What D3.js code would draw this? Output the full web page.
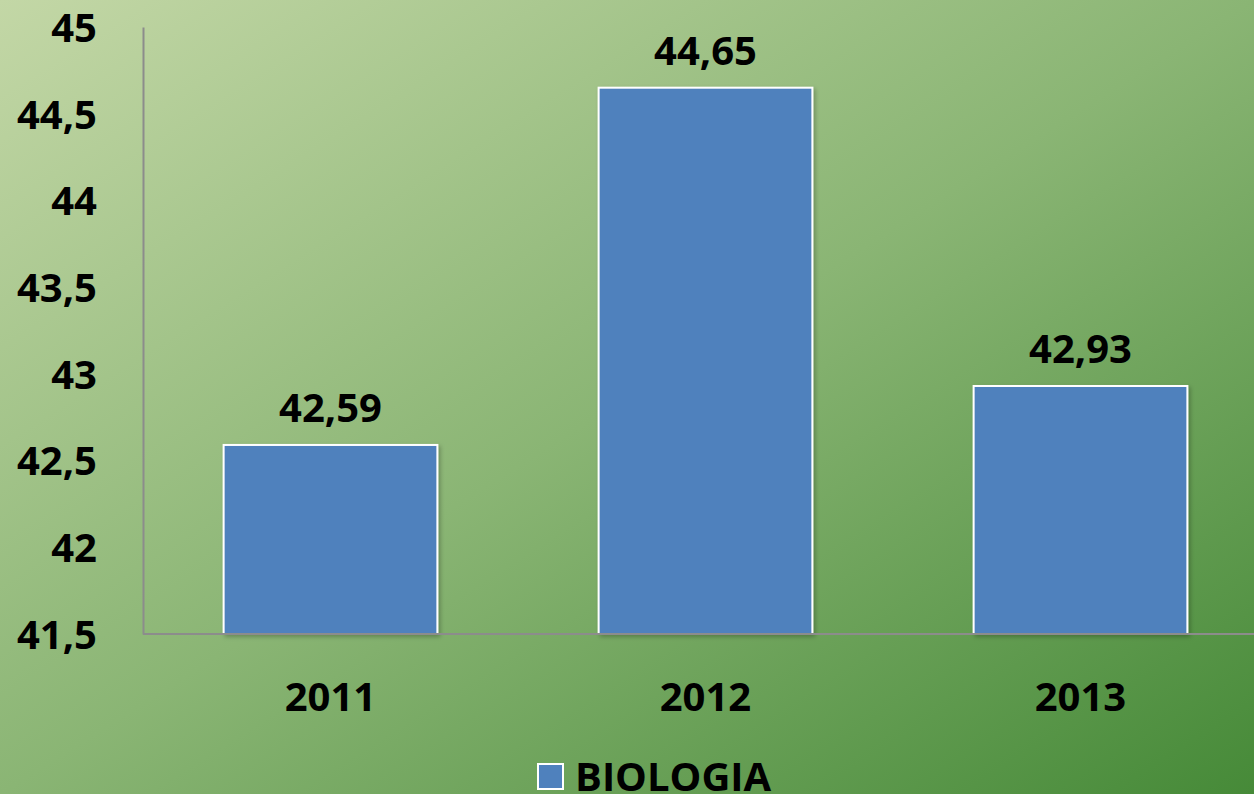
<!DOCTYPE html>
<html>
<head>
<meta charset="utf-8">
<script src="https://cdn.jsdelivr.net/npm/d3@7"></script>
<style>
  body { margin: 0; overflow: hidden; }
  svg { display: block; }
  text { font-family: "Open Sans", "Noto Sans", sans-serif; font-weight: bold; fill: #000; }
</style>
</head>
<body>
<div class="chart"></div>
<script>
// data
var years = ['2011', '2012', '2013'];
var biologia = [42.59, 44.65, 42.93];
var yTicks = [41.5, 42, 42.5, 43, 43.5, 44, 44.5, 45];
var seriesName = 'BIOLOGIA';

var width = 1254, height = 794;
var plot = { left: 143, top: 27, bottom: 634, right: 1268 };

var svg = d3.select('.chart').append('svg')
  .attr('width', width)
  .attr('height', height);

// background gradient
var defs = svg.append('defs');
var grad = defs.append('linearGradient')
  .attr('id', 'bg')
  .attr('x1', '0%').attr('y1', '0%')
  .attr('x2', '100%').attr('y2', '100%');
grad.append('stop').attr('offset', '0%').attr('stop-color', '#c3d7a6');
grad.append('stop').attr('offset', '50%').attr('stop-color', '#8ab574');
grad.append('stop').attr('offset', '100%').attr('stop-color', '#468a38');

var shadow = defs.append('filter').attr('id', 'shadow')
  .attr('x', '-5%').attr('y', '-5%').attr('width', '115%').attr('height', '115%');
shadow.append('feDropShadow')
  .attr('dx', 2).attr('dy', 2).attr('stdDeviation', 2)
  .attr('flood-color', '#000').attr('flood-opacity', 0.25);

svg.append('rect')
  .attr('width', width).attr('height', height)
  .attr('fill', 'url(#bg)');

var x = d3.scaleBand()
  .domain(years)
  .range([plot.left, plot.right])
  .paddingInner(0.43)
  .paddingOuter(0.215);

var y = d3.scaleLinear()
  .domain([41.5, 45])
  .range([plot.bottom, plot.top]);

var fmt = function(v) { return String(v).replace('.', ','); };

// y axis
var yAxis = svg.append('g')
  .attr('transform', 'translate(' + plot.left + ',0)')
  .call(d3.axisLeft(y).tickValues(yTicks).tickSize(0).tickPadding(46).tickFormat(fmt));
yAxis.select('.domain').attr('stroke', '#8c8c8c').attr('stroke-width', 2);
yAxis.selectAll('text')
  .style('font-size', '40px')
  .attr('dy', '0.36em')
  .style('font-family', '"Open Sans", sans-serif');

// bars
svg.selectAll('.bar')
  .data(biologia)
  .enter().append('rect')
  .attr('class', 'bar')
  .attr('x', function(d, i) { return x(years[i]); })
  .attr('y', function(d) { return y(d); })
  .attr('width', x.bandwidth())
  .attr('height', function(d) { return y(41.5) - y(d); })
  .attr('fill', '#4f81bd')
  .attr('stroke', '#fff')
  .attr('stroke-width', 2)
  .attr('filter', 'url(#shadow)');

// x axis line
svg.append('line')
  .attr('x1', plot.left).attr('x2', width)
  .attr('y1', y(41.5)).attr('y2', y(41.5))
  .attr('stroke', '#8c8c8c').attr('stroke-width', 2);

// x labels
svg.selectAll('.xlab')
  .data(years)
  .enter().append('text')
  .attr('class', 'xlab')
  .attr('x', function(d) { return x(d) + x.bandwidth() / 2; })
  .attr('y', 711)
  .attr('text-anchor', 'middle')
  .style('font-size', '40px')
  .text(function(d) { return d; });

// value labels
svg.selectAll('.val')
  .data(biologia)
  .enter().append('text')
  .attr('class', 'val')
  .attr('x', function(d, i) { return x(years[i]) + x.bandwidth() / 2; })
  .attr('y', function(d) { return y(d) - 23; })
  .attr('text-anchor', 'middle')
  .style('font-size', '40px')
  .text(function(d) { return fmt(d); });

// legend
var legend = svg.append('g');
legend.append('rect')
  .attr('x', 538).attr('y', 764)
  .attr('width', 25).attr('height', 25)
  .attr('fill', '#4f81bd')
  .attr('stroke', '#fff').attr('stroke-width', 2);
legend.append('text')
  .attr('x', 575).attr('y', 791)
  .style('font-size', '40px')
  .text(seriesName);
</script>
</body>
</html>
